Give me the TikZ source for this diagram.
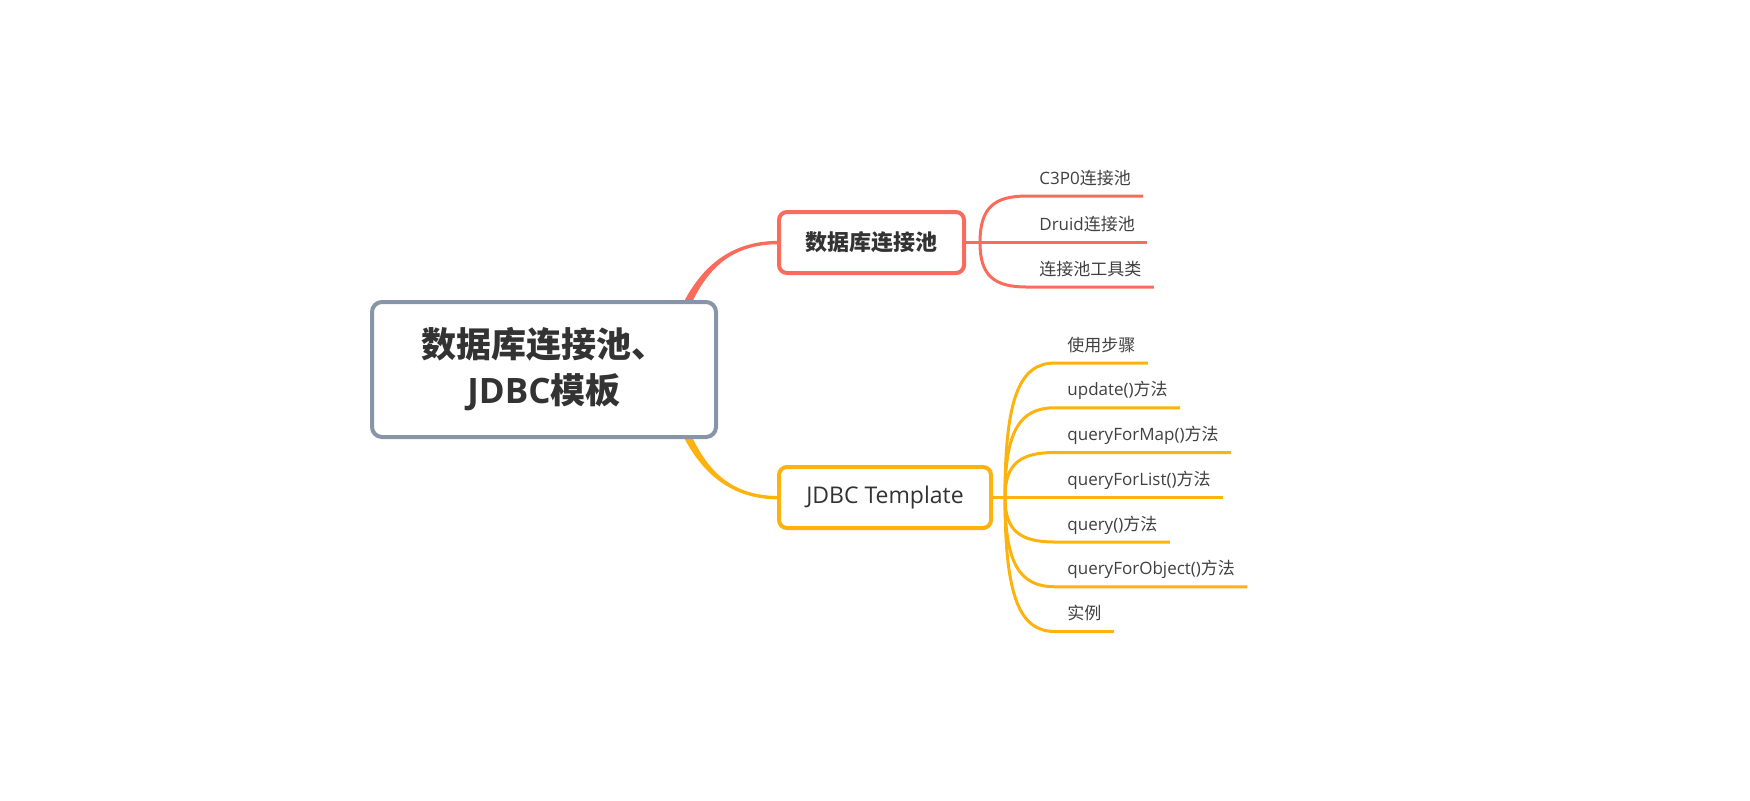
\documentclass[tikz,border=0pt]{standalone}
\usepackage{fontspec}
\setmainfont{Open Sans}
\newfontfamily\cjk{Noto Sans CJK SC}
\usetikzlibrary{calc}
\definecolor{coral}{RGB}{249,108,91}
\definecolor{amber}{RGB}{253,178,14}
\definecolor{rootgray}{RGB}{136,148,168}
\definecolor{txt}{RGB}{51,51,51}
\definecolor{leaftxt}{RGB}{64,64,64}
\newcommand\leafcurve[3]{%
  \draw[#1, line width=1.5pt] let \p1=(#2), \p2=(#3.south west) in
    (\p1) .. controls (\x1,{\y2+0.25*(\y1-\y2)}) and ({\x1+0.3*(\x2-\x1)},\y2) .. (\p2) -- (#3.south east);}
\begin{document}
\begin{tikzpicture}[x=0.5pt,y=-0.5pt,
  rootbox/.style={draw=rootgray, line width=2pt, rounded corners=5pt, fill=white,
    minimum width=172pt, minimum height=67.5pt, align=center,
    font=\fontsize{17.5}{23}\selectfont\bfseries, text=txt, inner sep=0pt},
  subbox/.style={line width=2pt, rounded corners=4pt, fill=white,
    minimum height=30.5pt, inner sep=0pt, text=txt},
  leaf/.style={anchor=south west, inner xsep=6pt, inner ysep=4pt,
    font=\fontsize{8.5}{10}\selectfont, text=leaftxt, text height=6.5pt, text depth=1.8pt}
]
\useasboundingbox (0,0) rectangle (1750,800);

% tapered main branches (drawn under the root)
\fill[coral] (674.4,351) .. controls (694.4,281) and (720,244.2) .. (779,244.2)
  -- (779,240.8) .. controls (720,240.8) and (685.6,279) .. (665.6,349) -- cycle;
\fill[amber] (674.4,388) .. controls (694.4,458) and (720,496) .. (779,496)
  -- (779,499.4) .. controls (720,499.4) and (685.6,460) .. (665.6,390) -- cycle;

\node[rootbox] (root) at (544,369.5) {{\cjk 数据库连接池、}\\JDBC{\cjk 模板}};

\node[subbox, draw=coral, minimum width=92.5pt, font=\fontsize{11}{13}\selectfont\bfseries]
  (db) at (871.5,242.5) {\cjk 数据库连接池};
\node[subbox, draw=amber, minimum width=106pt, font=\fontsize{11.5}{13}\selectfont]
  (jt) at (885,497.5) {JDBC Template};

\coordinate (cf) at (980,242.5);
\coordinate (yf) at (1005,497.5);
\draw[coral, line width=1.5pt] (db.east) -- (cf);
\draw[amber, line width=1.5pt] (jt.east) -- (yf);

% coral leaves
\node[leaf] (c1) at (1027,196) {C3P0{\cjk 连接池}};
\node[leaf] (c2) at (1027,242.5) {Druid{\cjk 连接池}};
\node[leaf] (c3) at (1027,287) {\cjk 连接池工具类};
\leafcurve{coral}{cf}{c1}
\leafcurve{coral}{cf}{c2}
\leafcurve{coral}{cf}{c3}

% amber leaves
\node[leaf] (y1) at (1055,363) {\cjk 使用步骤};
\node[leaf] (y2) at (1055,407.75) {update(){\cjk 方法}};
\node[leaf] (y3) at (1055,452.5) {queryForMap(){\cjk 方法}};
\node[leaf] (y4) at (1055,497.5) {queryForList(){\cjk 方法}};
\node[leaf] (y5) at (1055,542) {query(){\cjk 方法}};
\node[leaf] (y6) at (1055,586.75) {queryForObject(){\cjk 方法}};
\node[leaf] (y7) at (1055,631.5) {\cjk 实例};
\foreach \lf in {y1,y2,y3,y4,y5,y6,y7}{\leafcurve{amber}{yf}{\lf}}
\end{tikzpicture}
\end{document}
